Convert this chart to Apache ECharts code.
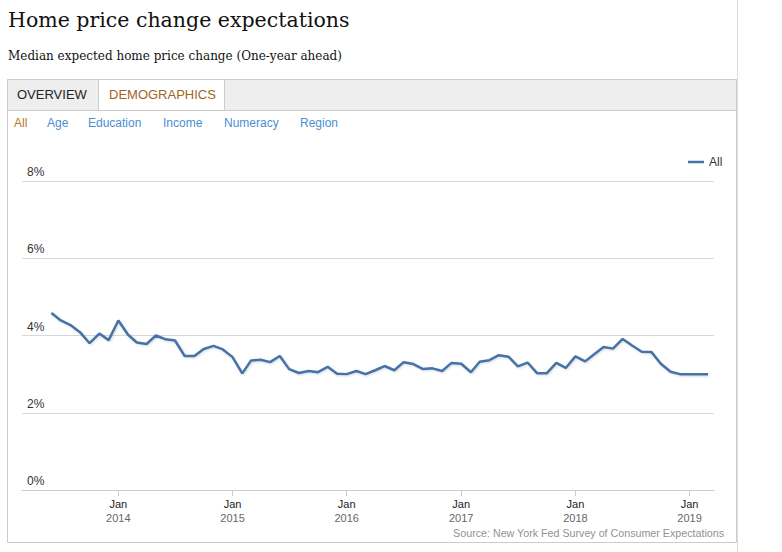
<!DOCTYPE html>
<html>
<head>
<meta charset="utf-8">
<script src="https://cdn.jsdelivr.net/npm/echarts@6/dist/echarts.min.js"></script>
<style>
html,body{margin:0;padding:0;background:#fff;}
#chart{width:782px;height:552px;}
</style>
</head>
<body>
<div id="chart"></div>
<script>
// ---- data ----
const months = [
  '2013-06','2013-07','2013-08','2013-09','2013-10','2013-11','2013-12',
  '2014-01','2014-02','2014-03','2014-04','2014-05','2014-06','2014-07','2014-08','2014-09','2014-10','2014-11','2014-12',
  '2015-01','2015-02','2015-03','2015-04','2015-05','2015-06','2015-07','2015-08','2015-09','2015-10','2015-11','2015-12',
  '2016-01','2016-02','2016-03','2016-04','2016-05','2016-06','2016-07','2016-08','2016-09','2016-10','2016-11','2016-12',
  '2017-01','2017-02','2017-03','2017-04','2017-05','2017-06','2017-07','2017-08','2017-09','2017-10','2017-11','2017-12',
  '2018-01','2018-02','2018-03','2018-04','2018-05','2018-06','2018-07','2018-08','2018-09','2018-10','2018-11','2018-12',
  '2019-01','2019-02','2019-03'
];
const allValues = [
  4.58,4.39,4.27,4.08,3.80,4.05,3.88,
  4.39,4.02,3.82,3.78,4.00,3.90,3.87,3.47,3.47,3.65,3.73,3.64,
  3.44,3.02,3.35,3.37,3.31,3.47,3.13,3.03,3.08,3.05,3.19,3.01,
  3.00,3.08,3.00,3.10,3.21,3.10,3.31,3.26,3.13,3.15,3.08,3.29,
  3.27,3.05,3.32,3.36,3.49,3.45,3.20,3.30,3.02,3.02,3.29,3.16,
  3.46,3.33,3.51,3.70,3.66,3.91,3.74,3.58,3.57,3.27,3.06,3.00,
  3.00,3.00,3.00
];
const yearTicks = ['2014-01','2015-01','2016-01','2017-01','2018-01','2019-01'];
const tickMonthLabel = 'Jan';
const xRange = ['2013-02-27', '2019-03-20'];
const tabs = ['OVERVIEW', 'DEMOGRAPHICS'];
const links = ['All', 'Age', 'Education', 'Income', 'Numeracy', 'Region'];
const titleText = 'Home price change expectations';
const subtitleText = 'Median expected home price change (One-year ahead)';
const sourceText = 'Source: New York Fed Survey of Consumer Expectations';

function ts(s) {
  const p = s.split('-').map(Number);
  return Date.UTC(p[0], p[1] - 1, p[2] || 1);
}

// ---- chart ----
const SANS = '"Liberation Sans", Arial, sans-serif';
const SERIF = '"DejaVu Serif", Georgia, serif';
const chart = echarts.init(document.getElementById('chart'), null, {renderer: 'svg'});

const linkX = [14, 47, 88, 163, 224, 300];
const graphics = [
  {type:'line', shape:{x1:737.5, y1:0, x2:737.5, y2:552}, style:{stroke:'#dddddd', lineWidth:1}, silent:true},
  {type:'rect', shape:{x:7.5, y:79.5, width:729, height:463}, style:{fill:'rgba(0,0,0,0)', stroke:'#cccccc', lineWidth:1}, z:-10, silent:true},
  {type:'rect', shape:{x:7.5, y:79.5, width:729, height:31}, style:{fill:'#eeeeee', stroke:'#cccccc', lineWidth:1}, z:-9, silent:true},
  {type:'rect', shape:{x:98.5, y:80, width:126, height:30}, style:{fill:'#ffffff'}, z:-8, silent:true},
  {type:'line', shape:{x1:98.5, y1:80, x2:98.5, y2:110}, style:{stroke:'#cccccc', lineWidth:1}, z:-7, silent:true},
  {type:'line', shape:{x1:224.5, y1:80, x2:224.5, y2:110}, style:{stroke:'#cccccc', lineWidth:1}, z:-7, silent:true},
  {type:'text', x:8, y:19.5, style:{text:titleText, font:'20.5px ' + SERIF, fill:'#111', verticalAlign:'middle'}},
  {type:'text', x:8, y:55.5, style:{text:subtitleText, font:'12px ' + SERIF, fill:'#111', verticalAlign:'middle'}},
  {type:'text', x:17, y:94, style:{text:tabs[0], font:'13px ' + SANS, fill:'#222', verticalAlign:'middle'}},
  {type:'text', x:109, y:94, style:{text:tabs[1], font:'13px ' + SANS, fill:'#a0661d', verticalAlign:'middle'}},
  {type:'text', x:724, y:532.5, style:{text:sourceText, font:'10.7px ' + SANS, fill:'#929292', align:'right', verticalAlign:'middle'}}
];
links.forEach((t, i) => {
  graphics.push({type:'text', x:linkX[i], y:122.5, style:{text:t, font:'12px ' + SANS, fill: i === 0 ? '#b07820' : '#4a8fd0', verticalAlign:'middle'}});
});

chart.setOption({
  animation: false,
  textStyle: {fontFamily: SANS},
  grid: {left:22, right:68, top:181, bottom:62, containLabel:false},
  legend: {
    left: 683, top: 151,
    icon: 'rect', itemWidth: 16, itemHeight: 2.5, itemGap: 10,
    textStyle: {fontSize: 12, color: '#333', fontFamily: SANS},
    data: ['All']
  },
  xAxis: {
    type: 'value',
    min: ts(xRange[0]),
    max: ts(xRange[1]),
    axisLine: {show:true, onZero:false, lineStyle:{color:'#cccccc', width:1}},
    axisTick: {show:true, length:6, lineStyle:{color:'#cccccc'}, customValues: yearTicks.map(ts)},
    splitLine: {show:false},
    axisLabel: {
      customValues: yearTicks.map(ts),
      margin: 7,
      formatter: function (v) { return '{a|' + tickMonthLabel + '}\n{b|' + new Date(v).getUTCFullYear() + '}'; },
      rich: {
        a: {fontSize:11, color:'#222', lineHeight:14, fontFamily: SANS},
        b: {fontSize:11, color:'#666', lineHeight:14, fontFamily: SANS}
      }
    }
  },
  yAxis: {
    type: 'value', min: 0, max: 8, interval: 2,
    axisLine: {show:false}, axisTick: {show:false},
    splitLine: {lineStyle:{color:'#d8d8d8', width:1}},
    axisLabel: {
      inside: true, align: 'left', verticalAlign: 'bottom', margin: 5,
      padding: [0,0,3,0],
      fontSize: 12, color: '#333', fontFamily: SANS,
      formatter: '{value}%'
    }
  },
  series: [{
    name: 'All', type: 'line', symbol: 'none', showSymbol: false,
    data: months.map((m, i) => [ts(m), allValues[i]]),
    itemStyle: {color: '#4572a7'},
    lineStyle: {color:'#4572a7', width:2.5, shadowColor:'rgba(0,0,0,0.15)', shadowBlur:2, shadowOffsetY:1, shadowOffsetX:1},
    z: 3
  }],
  graphic: {elements: graphics}
});
</script>
</body>
</html>
